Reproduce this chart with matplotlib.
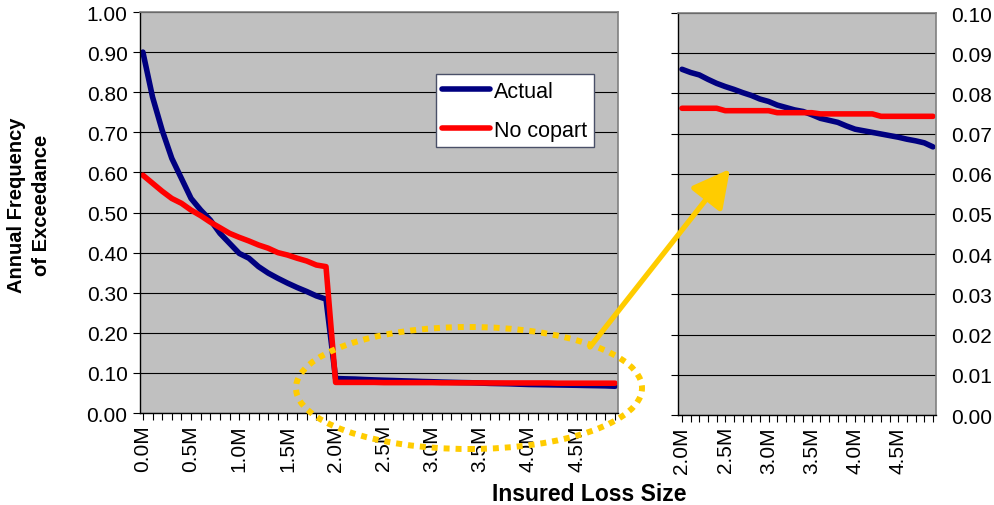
import matplotlib
matplotlib.use("Agg")
from matplotlib import pyplot as plt
import matplotlib.patches as mpatches
from matplotlib.ticker import FixedLocator, FuncFormatter

plt.rcParams["font.family"] = ["Liberation Sans", "DejaVu Sans"]

# insured loss size, in millions
loss_size = [0.0, 0.1, 0.2, 0.3, 0.4, 0.5, 0.6, 0.7, 0.8, 0.9,
             1.0, 1.1, 1.2, 1.3, 1.4, 1.5, 1.6, 1.7, 1.8, 1.9,
             2.0, 2.1, 2.2, 2.3, 2.4, 2.5, 2.6, 2.7, 2.8, 2.9,
             3.0, 3.1, 3.2, 3.3, 3.4, 3.5, 3.6, 3.7, 3.8, 3.9,
             4.0, 4.1, 4.2, 4.3, 4.4, 4.5, 4.6, 4.7, 4.8, 4.9]

actual = [0.900, 0.788, 0.705, 0.635, 0.585, 0.535, 0.506, 0.481, 0.448, 0.423,
          0.398, 0.386, 0.365, 0.349, 0.336, 0.324, 0.313, 0.303, 0.292, 0.284,
          0.0860, 0.0852, 0.0846, 0.0835, 0.0825, 0.0817, 0.0810, 0.0802, 0.0795, 0.0786,
          0.0780, 0.0771, 0.0765, 0.0759, 0.0755, 0.0747, 0.0738, 0.0733, 0.0728, 0.0719,
          0.0711, 0.0707, 0.0703, 0.0699, 0.0695, 0.0691, 0.0686, 0.0682, 0.0677, 0.0667]

no_copart = [0.593, 0.573, 0.553, 0.535, 0.523, 0.506, 0.492, 0.476, 0.462, 0.448,
             0.438, 0.429, 0.419, 0.411, 0.400, 0.394, 0.386, 0.379, 0.369, 0.365,
             0.0763, 0.0763, 0.0763, 0.0763, 0.0763, 0.0757, 0.0757, 0.0757, 0.0757, 0.0757,
             0.0757, 0.0752, 0.0752, 0.0752, 0.0752, 0.0752, 0.0749, 0.0749, 0.0749, 0.0749,
             0.0749, 0.0749, 0.0749, 0.0743, 0.0743, 0.0743, 0.0743, 0.0743, 0.0743, 0.0743]

zoom_start = 20  # right panel starts at 2.0M

W, H = 994, 506
fig = plt.figure(figsize=(W / 100, H / 100), dpi=100)


def px_box(x0, y0, x1, y1):
    return [x0 / W, 1 - y1 / H, (x1 - x0) / W, (y1 - y0) / H]


NAVY = "#000080"
RED = "#FF0000"
GOLD = "#FFCC00"
line_kw = dict(lw=4.0, solid_capstyle="round", solid_joinstyle="round")


def style_axes(ax, xlim, ylim, yticks, minor_x, label_x):
    ax.set_facecolor("#C0C0C0")
    ax.set_xlim(*xlim)
    ax.set_ylim(*ylim)
    ax.set_yticks(yticks)
    ax.yaxis.grid(True, color="black", lw=0.8)
    ax.set_axisbelow(True)
    ax.xaxis.set_major_locator(FixedLocator(minor_x))
    ax.xaxis.set_major_formatter(
        FuncFormatter(lambda v, p: f"{v:.1f}M" if any(abs(v - l) < 1e-6 for l in label_x) else ""))
    ax.tick_params(axis="x", direction="out", length=5, width=0.8, labelsize=15,
                   labelrotation=90, pad=3)
    ax.tick_params(axis="y", direction="out", length=5, width=0.8, labelsize=15, pad=4)
    for s in ["top", "right"]:
        ax.spines[s].set_color("#808080")
        ax.spines[s].set_linewidth(1.2)
    for s in ["left", "bottom"]:
        ax.spines[s].set_color("black")
        ax.spines[s].set_linewidth(1)


# left panel
ax1 = fig.add_axes(px_box(140, 13, 618, 414))
ax1.plot(loss_size, actual, color=NAVY, label="Actual", **line_kw)
ax1.plot(loss_size, no_copart, color=RED, label="No copart", **line_kw)
style_axes(ax1, (-0.03, 4.93), (0, 1.0), [i / 10 for i in range(11)],
           loss_size, [0.0, 0.5, 1.0, 1.5, 2.0, 2.5, 3.0, 3.5, 4.0, 4.5])
ax1.yaxis.set_major_formatter(FuncFormatter(lambda v, p: f"{v:.2f}"))
leg = ax1.legend(loc="upper left", bbox_to_anchor=(0.619, 0.845), borderaxespad=0,
                 fancybox=False, framealpha=1, edgecolor="#4A5068", fontsize=15.5,
                 handlelength=2.2, labelspacing=0.85, borderpad=0.3, handletextpad=0.2)
leg.get_frame().set_linewidth(1)

# right panel (zoom of 2.0M - 4.9M)
ax2 = fig.add_axes(px_box(678, 14, 936, 416))
ax2.plot(loss_size[zoom_start:], actual[zoom_start:], color=NAVY, **line_kw)
ax2.plot(loss_size[zoom_start:], no_copart[zoom_start:], color=RED, **line_kw)
style_axes(ax2, (1.954, 4.935), (0, 0.10), [i / 100 for i in range(11)],
           loss_size[zoom_start:], [2.0, 2.5, 3.0, 3.5, 4.0, 4.5])
ax2.yaxis.set_major_formatter(FuncFormatter(lambda v, p: f"{v:.2f}"))
ax2.tick_params(axis="y", left=True, labelleft=False, right=False, labelright=True, pad=6)

# labels
fig.text(29 / W, 1 - 205 / H, "Annual Frequency\nof Exceedance", rotation=90,
         ha="center", va="center", multialignment="center", fontsize=14.5,
         fontweight="bold", linespacing=1.45)
fig.text(589 / W, 1 - 495 / H, "Insured Loss Size", ha="center", va="center",
         fontsize=16.5, fontweight="bold")

# yellow callout: dotted ellipse and arrow
ell = mpatches.Ellipse((469 / W, 1 - 389 / H), 346 / W, 122 / H, transform=fig.transFigure,
                       fill=False, edgecolor=GOLD, lw=4.3, linestyle=(0, (1, 1)),
                       capstyle="butt", clip_on=False)
fig.add_artist(ell)
arr = mpatches.FancyArrowPatch((590 / W, 1 - 348 / H), (730 / W, 1 - 170 / H),
                               transform=fig.transFigure,
                               arrowstyle="-|>,head_length=1.9,head_width=1.0",
                               mutation_scale=12, color=GOLD, lw=3.8,
                               shrinkA=0, shrinkB=0)
fig.add_artist(arr)

fig.savefig("out.png", dpi=100)
